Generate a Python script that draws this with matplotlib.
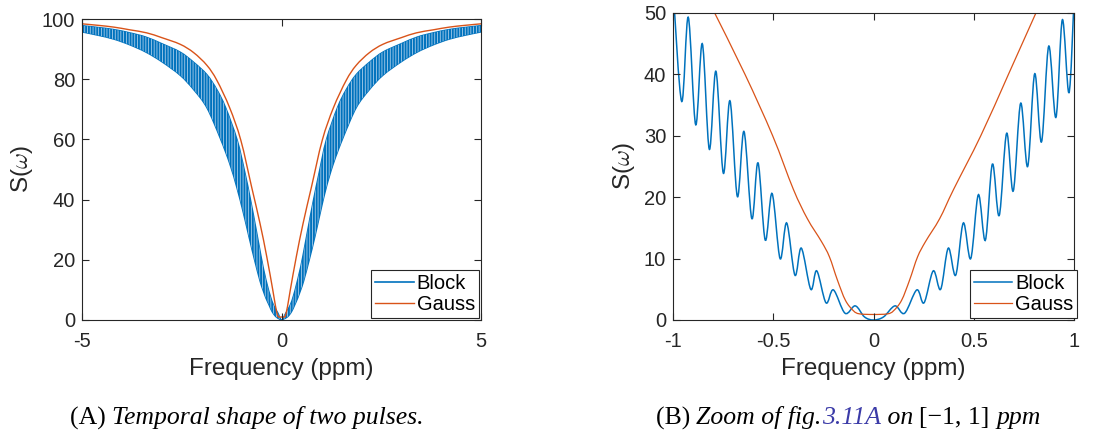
import matplotlib
matplotlib.use("Agg")
import matplotlib.pyplot as plt
from matplotlib.path import Path
from matplotlib.patches import PathPatch

plt.rcParams['font.family'] = ['Liberation Sans', 'DejaVu Sans']
plt.rcParams['mathtext.fontset'] = 'cm'
plt.rcParams['axes.unicode_minus'] = False
plt.rcParams['hatch.linewidth'] = 0.6

BLUE = '#0072BD'
ORANGE = '#D95319'
DARK = '#262626'

# ---- panel A: full range ----
# the Block response is too dense to trace peak by peak: keep its two envelopes
a_hi_x = [-5.0, -4.6, -4.2, -3.8, -3.4, -3.0, -2.54, -2.2, -1.87, -1.62, -1.4, -1.11, -0.924, -0.786,
          -0.646, -0.506, -0.433, -0.36, -0.283, -0.2, -0.091, 0.0,
          0.107, 0.216, 0.298, 0.373, 0.448, 0.523, 0.664, 0.804, 0.942, 1.12, 1.4, 1.62, 1.87,
          2.2, 2.54, 3.0, 3.4, 3.8, 4.2, 4.6, 5.0]
a_block_hi = [97.8, 97.2, 96.5, 95.4, 94.0, 91.8, 89.0, 85.6, 81.5, 76.5, 70.5, 59.7, 49.3, 40.5,
              30.7, 20.6, 15.8, 11.7, 8.0, 4.9, 2.3, 0.0,
              2.3, 4.9, 8.0, 11.7, 15.8, 20.4, 30.4, 40.1, 48.9, 59.7, 70.5, 76.5, 81.5,
              85.6, 89.0, 91.8, 94.0, 95.4, 96.5, 97.2, 97.8]
a_lo_x = [-5.0, -4.6, -4.2, -3.8, -3.4, -3.0, -2.54, -2.2, -1.87, -1.54, -1.3, -1.12, -0.957, -0.819,
          -0.679, -0.54, -0.466, -0.392, -0.313, -0.237, -0.142, -0.05, 0.0,
          0.05, 0.155, 0.252, 0.33, 0.405, 0.48, 0.555, 0.697, 0.838, 0.97, 1.12, 1.3, 1.54, 1.87,
          2.2, 2.54, 3.0, 3.4, 3.8, 4.2, 4.6, 5.0]
a_block_lo = [95.7, 94.6, 93.3, 91.4, 89.0, 85.8, 81.3, 76.5, 70.5, 60.5, 52.0, 44.0, 35.6, 27.8,
              20.1, 13.0, 10.0, 7.3, 5.0, 2.8, 1.1, 0.3, 0.0,
              0.3, 1.1, 2.8, 5.0, 7.3, 10.0, 13.0, 20.1, 27.8, 35.6, 44.0, 52.0, 60.5, 70.5,
              76.5, 81.3, 85.8, 89.0, 91.4, 93.3, 94.6, 95.7]
a_gauss_x = [-5.0, -4.6, -4.2, -3.8, -3.38, -3.0, -2.54, -2.2, -1.87, -1.62, -1.3, -1.02, -0.75,
             -0.54, -0.37, -0.22, -0.15, -0.10, -0.07, 0.0, 0.07, 0.10, 0.15, 0.22, 0.37, 0.54,
             0.75, 1.02, 1.3, 1.62, 1.87, 2.2, 2.54, 3.0, 3.38, 3.8, 4.2, 4.6, 5.0]
a_gauss = [98.4, 97.9, 97.3, 96.4, 95.4, 93.8, 91.6, 88.8, 84.6, 79.6, 70.5, 59.7, 44.2,
           32.1, 21.0, 10.0, 4.5, 1.6, 1.0, 1.0, 1.0, 1.6, 4.5, 10.0, 21.0, 32.1,
           44.2, 59.7, 70.5, 79.6, 84.6, 88.8, 91.6, 93.8, 95.4, 96.4, 97.3, 97.9, 98.4]

# ---- panel B: zoom on [-1, 1] ppm, peaks and troughs read one by one ----
b_block_x = [-1.0, -0.957, -0.924, -0.887, -0.854, -0.819, -0.786, -0.749, -0.716, -0.679, -0.646,
             -0.607, -0.576, -0.540, -0.506, -0.466, -0.433, -0.392, -0.360, -0.313, -0.283, -0.237,
             -0.200, -0.142, -0.091, -0.045, 0.0, 0.05, 0.107, 0.155, 0.216, 0.252, 0.298, 0.335,
             0.373, 0.41, 0.448, 0.485, 0.523, 0.558, 0.593, 0.627, 0.664, 0.697, 0.734, 0.769,
             0.804, 0.838, 0.874, 0.910, 0.942, 0.975, 1.0]
b_block = [54.0, 35.6, 49.3, 31.8, 45.0, 27.8, 40.5, 23.9, 35.7, 20.1, 30.7,
           16.5, 25.6, 13.0, 20.6, 10.0, 15.8, 7.3, 11.7, 5.0, 8.0, 2.8,
           4.9, 1.1, 2.3, 0.5, 0.0, 0.5, 2.3, 1.1, 4.9, 2.8, 8.0, 5.0,
           11.7, 7.3, 15.8, 10.0, 20.4, 13.0, 25.4, 17.0, 30.4, 21.0, 35.3, 25.0,
           40.1, 29.0, 44.6, 33.0, 48.9, 37.0, 52.0]
b_gauss_x = [-0.80, -0.641, -0.503, -0.40, -0.33, -0.26, -0.22, -0.18, -0.14, -0.10, -0.07, 0.0,
             0.07, 0.10, 0.14, 0.18, 0.22, 0.26, 0.33, 0.40, 0.535, 0.673, 0.817]
b_gauss = [50.5, 40.0, 30.0, 21.3, 16.5, 12.8, 10.3, 6.5, 3.2, 1.5, 1.0, 0.9,
           1.0, 1.5, 3.2, 6.5, 10.3, 12.8, 16.5, 21.3, 30.0, 40.0, 50.5]


def bezier_through(xs, ys):
    # cubic Bezier segments through the read points (Catmull-Rom tangents)
    verts, codes = [(xs[0], ys[0])], [Path.MOVETO]
    n = len(xs)
    for i in range(n - 1):
        x0, y0 = xs[max(i - 1, 0)], ys[max(i - 1, 0)]
        x1, y1 = xs[i], ys[i]
        x2, y2 = xs[i + 1], ys[i + 1]
        x3, y3 = xs[min(i + 2, n - 1)], ys[min(i + 2, n - 1)]
        verts += [(x1 + (x2 - x0) / 6, y1 + (y2 - y0) / 6),
                  (x2 - (x3 - x1) / 6, y2 - (y3 - y1) / 6),
                  (x2, y2)]
        codes += [Path.CURVE4] * 3
    return verts, codes


def smooth_line(ax, xs, ys, **kw):
    v, c = bezier_through(xs, ys)
    ax.add_patch(PathPatch(Path(v, c), facecolor='none', capstyle='butt', **kw))


def smooth_band(xs_hi, ys_hi, xs_lo, ys_lo):
    v1, c1 = bezier_through(xs_hi, ys_hi)
    v2, c2 = bezier_through(xs_lo[::-1], ys_lo[::-1])
    c2[0] = Path.LINETO
    return Path(v1 + v2 + [v1[0]], c1 + c2 + [Path.CLOSEPOLY])


def style_axes(ax):
    for s in ax.spines.values():
        s.set_color(DARK)
        s.set_linewidth(0.8)
    ax.tick_params(direction='in', top=True, right=True, length=5, width=0.8,
                   colors=DARK, labelsize=14.5)
    ax.tick_params(axis='x', pad=9)
    ax.tick_params(axis='y', pad=5)
    ax.set_xlabel('Frequency (ppm)', fontsize=17.5, color=DARK, labelpad=5)
    ax.set_ylabel(r'S($\omega$)', fontsize=17.5, color=DARK, labelpad=5)


fig = plt.figure(figsize=(10.94, 4.34), dpi=100)

axA = fig.add_axes([0.075, 0.2627, 0.3647, 0.6935])
band = smooth_band(a_hi_x, a_block_hi, a_lo_x, a_block_lo)
axA.add_patch(PathPatch(band, facecolor=BLUE, edgecolor=BLUE, lw=1.0))
axA.add_patch(PathPatch(band, facecolor='none', edgecolor='#a9cdea', lw=0, hatch='||||||'))
smooth_line(axA, a_gauss_x, a_gauss, edgecolor=ORANGE, lw=1.0)
axA.plot([], [], color=BLUE, lw=1.2, label='Block')
axA.plot([], [], color=ORANGE, lw=1.0, label='Gauss')
axA.set_xlim(-5, 5)
axA.set_ylim(0, 100)
axA.set_xticks([-5, 0, 5])
axA.set_yticks([0, 20, 40, 60, 80, 100])
style_axes(axA)

axB = fig.add_axes([0.6152, 0.2627, 0.3665, 0.7074])
smooth_line(axB, b_block_x, b_block, edgecolor=BLUE, lw=1.1)
smooth_line(axB, b_gauss_x, b_gauss, edgecolor=ORANGE, lw=0.9)
axB.plot([], [], color=BLUE, lw=1.1, label='Block')
axB.plot([], [], color=ORANGE, lw=0.9, label='Gauss')
axB.set_xlim(-1, 1)
axB.set_ylim(0, 50)
axB.set_xticks([-1, -0.5, 0, 0.5, 1])
axB.set_xticklabels(['-1', '-0.5', '0', '0.5', '1'])
axB.set_yticks([0, 10, 20, 30, 40, 50])
style_axes(axB)

for ax, anchor in ((axA, (1.0, 0.0)), (axB, (1.013, 0.0))):
    leg = ax.legend(loc='lower right', bbox_to_anchor=anchor, fontsize=14.5, frameon=True,
                    fancybox=False, borderpad=0.2, handlelength=1.9, handletextpad=0.15,
                    labelspacing=0.1, borderaxespad=0.1, framealpha=1)
    leg.get_frame().set_edgecolor(DARK)
    leg.get_frame().set_linewidth(0.8)


# captions under each panel, pieces laid one after another
def caption(cx, y, pieces):
    r = fig.canvas.get_renderer()
    texts = []
    for s, style, color in pieces:
        t = fig.text(0, y, s, fontsize=18.5, family='Liberation Serif', style=style, color=color,
                     va='baseline')
        texts.append(t)
    widths = [t.get_window_extent(r).width for t in texts]
    x = cx - sum(widths) / 2
    for t, w in zip(texts, widths):
        t.set_x(x / fig.bbox.width)
        x += w


caption(247, 0.022, [('(A) ', 'normal', 'black'),
                     ('Temporal shape of two pulses.', 'italic', 'black')])
caption(848, 0.022, [('(B) ', 'normal', 'black'),
                     ('Zoom of fig.', 'italic', 'black'),
                     ('3.11A', 'italic', '#3b3ba8'),
                     (' on ', 'italic', 'black'),
                     ('[\u22121, 1] ', 'normal', 'black'),
                     ('ppm', 'italic', 'black')])

fig.savefig('out.png', dpi=100)
